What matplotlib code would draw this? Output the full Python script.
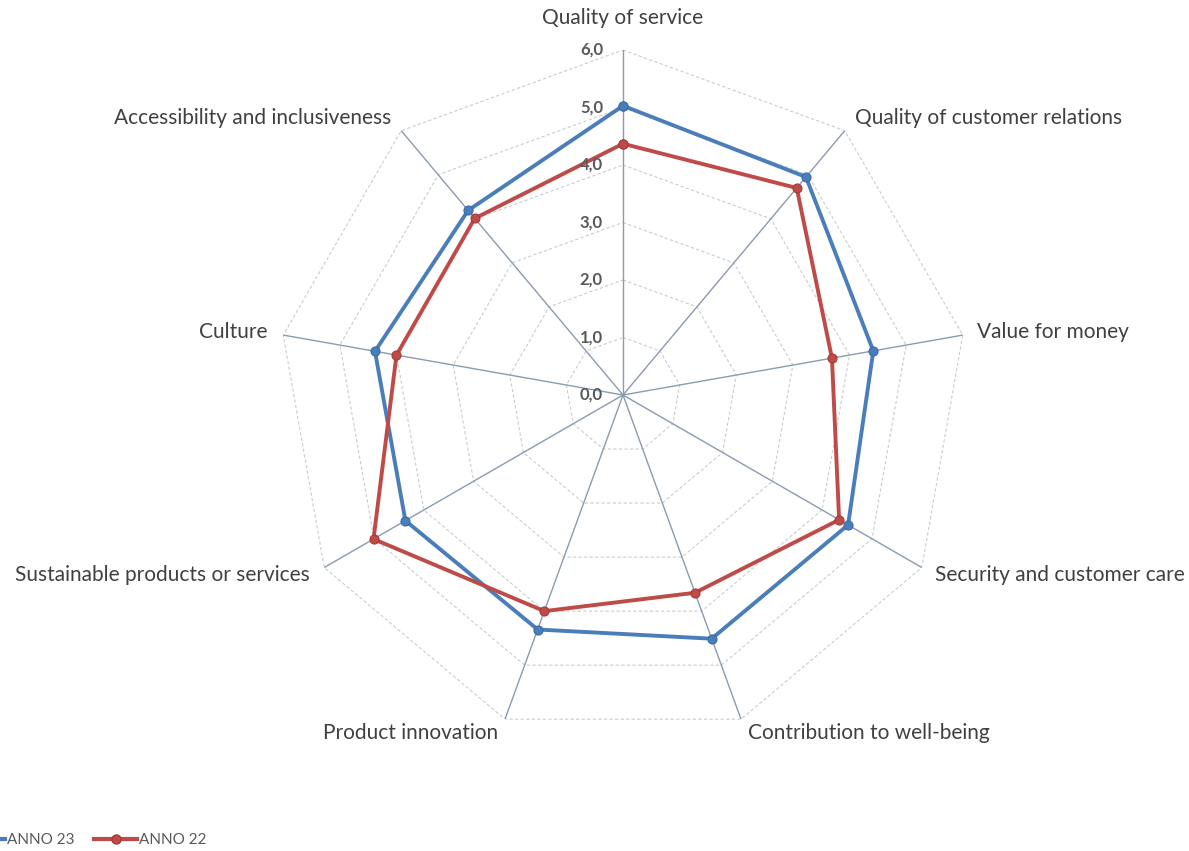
import numpy as np
import matplotlib
matplotlib.use("Agg")
import matplotlib.pyplot as plt
from matplotlib.lines import Line2D

plt.rcParams['font.family'] = ['Lato', 'DejaVu Sans']

categories = [
    "Quality of service",
    "Quality of customer relations",
    "Value for money",
    "Security and customer care",
    "Contribution to well-being",
    "Product innovation",
    "Sustainable products or services",
    "Culture",
    "Accessibility and inclusiveness",
]
anno_23 = [5.03, 4.95, 4.42, 4.52, 4.51, 4.34, 4.37, 4.38, 4.19]
anno_22 = [4.37, 4.70, 3.69, 4.34, 3.66, 4.00, 5.01, 4.00, 4.01]
ring_values = [1, 2, 3, 4, 5, 6]
tick_labels = ["0,0", "1,0", "2,0", "3,0", "4,0", "5,0", "6,0"]
series_names = ["ANNO 23", "ANNO 22"]

W, H = 1189, 851
fig = plt.figure(figsize=(W / 100, H / 100), dpi=100)
fig.patch.set_facecolor("white")

cx, cy, R = 623, 395, 345
ax = fig.add_axes([(cx - R) / W, 1 - (cy + R) / H, 2 * R / W, 2 * R / H],
                  projection="polar")
ax.set_theta_zero_location("N")
ax.set_theta_direction(-1)
ax.set_ylim(0, 6)
ax.grid(False)
ax.set_xticks([])
ax.set_yticks([])
ax.spines["polar"].set_visible(False)
ax.patch.set_alpha(0)

n = len(categories)
angles = np.arange(n) * 2 * np.pi / n
closed = np.append(angles, angles[0])

# rings
for r in ring_values:
    ax.plot(closed, [r] * (n + 1), color="#c9ccd0", lw=0.8,
            linestyle=(0, (3, 2)), zorder=1)
# spokes
for a in angles:
    ax.plot([a, a], [0, 6], color="#8a9bb0", lw=1.0, zorder=2)

blue = "#4a7ebb"
red = "#be4b48"
for vals, col, edge in [(anno_23, blue, "#3a6aa8"), (anno_22, red, "#a63a37")]:
    v = np.append(vals, vals[0])
    ax.plot(closed, v, color=col, lw=2.8, zorder=4, solid_joinstyle="round",
            marker="o", markersize=6.5, markerfacecolor=col,
            markeredgecolor=edge, markeredgewidth=0.8)

# value axis labels
for i, t in enumerate(tick_labels):
    fig.text((cx - 20) / W, 1 - (cy - i * R / 6) / H, t, ha="right",
             va="center", fontsize=12, color="#595959", fontweight="bold")

# category labels (pixel anchors)
label_pos = [
    (623, 18, "center"),
    (855, 118, "left"),
    (977, 332, "left"),
    (935, 575, "left"),
    (748, 733, "left"),
    (498, 733, "right"),
    (310, 575, "right"),
    (268, 332, "right"),
    (391, 118, "right"),
]
for name, (x, y, ha) in zip(categories, label_pos):
    fig.text(x / W, 1 - y / H, name, ha=ha, va="center", fontsize=15,
             color="#404040")

handles = [
    Line2D([], [], color=blue, lw=3, marker="o", markersize=6.5,
           markerfacecolor=blue, markeredgecolor="#3a6aa8"),
    Line2D([], [], color=red, lw=3, marker="o", markersize=6.5,
           markerfacecolor=red, markeredgecolor="#a63a37"),
]
leg = fig.legend(handles, series_names, loc="center left",
                 bbox_to_anchor=(-0.043, 1 - 840 / H), ncol=2, frameon=False,
                 fontsize=11, handlelength=2.8, handletextpad=0.1,
                 columnspacing=1.3, labelcolor="#595959")

fig.savefig("out.png", dpi=100, facecolor="white")
